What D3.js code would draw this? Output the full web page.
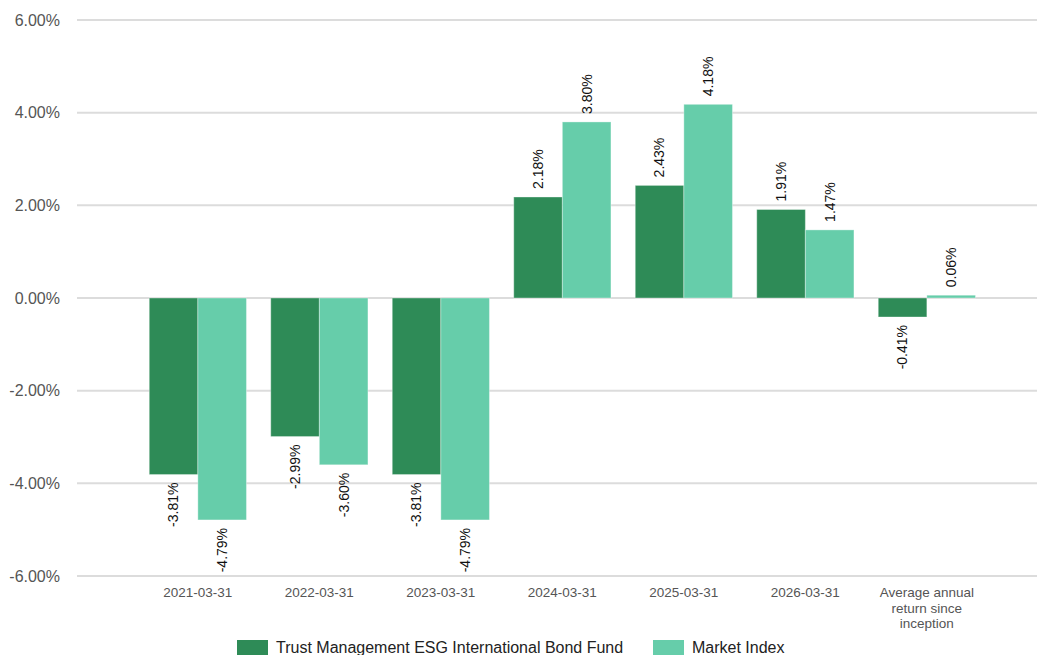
<!DOCTYPE html>
<html>
<head>
<meta charset="utf-8">
<script src="https://cdn.jsdelivr.net/npm/d3@7"></script>
<style>
  html, body { margin: 0; padding: 0; background: #fff; }
  svg { display: block; font-family: "Liberation Sans", Arial, sans-serif; }
</style>
</head>
<body>
<svg id="chart" width="1037" height="655"></svg>
<script>
"use strict";
// data
const categories = ["2021-03-31", "2022-03-31", "2023-03-31", "2024-03-31", "2025-03-31", "2026-03-31",
    "Average annual return since inception"];
const seriesNames = ["Trust Management ESG International Bond Fund", "Market Index"];
const fundValues = [-3.81, -2.99, -3.81, 2.18, 2.43, 1.91, -0.41];
const indexValues = [-4.79, -3.60, -4.79, 3.80, 4.18, 1.47, 0.06];
const yTicks = [-6, -4, -2, 0, 2, 4, 6];
const colors = ["#2e8b57", "#66cdaa"];

const svg = d3.select("#chart");
const gridLeft = 77, gridRight = 1037;

const y = d3.scaleLinear().domain([-6, 6]).range([576, 20]);
const x0 = d3.scaleBand().domain(categories).range([88.5, 1036.2])
    .paddingInner(0.2).paddingOuter(0.5);
const x1 = d3.scaleBand().domain([0, 1]).range([0, x0.bandwidth()]);

// gridlines
svg.append("g")
    .selectAll("line")
    .data(yTicks)
    .join("line")
    .attr("x1", gridLeft).attr("x2", gridRight)
    .attr("y1", d => y(d)).attr("y2", d => y(d))
    .attr("stroke", "#dcdcdc")
    .attr("stroke-width", 2);

// y axis labels
svg.append("g")
    .selectAll("text")
    .data(yTicks)
    .join("text")
    .attr("x", 60)
    .attr("y", d => y(d))
    .attr("dy", "0.35em")
    .attr("text-anchor", "end")
    .attr("font-size", 16)
    .attr("fill", "#555")
    .text(d => d.toFixed(2) + "%");

const rows = categories.map((c, i) => ({ cat: c, vals: [fundValues[i], indexValues[i]] }));

const groups = svg.append("g")
    .selectAll("g")
    .data(rows)
    .join("g")
    .attr("transform", d => `translate(${x0(d.cat)},0)`);

groups.selectAll("rect")
    .data(d => d.vals.map((v, k) => ({ v, k })))
    .join("rect")
    .attr("x", d => x1(d.k))
    .attr("width", x1.bandwidth())
    .attr("y", d => y(Math.max(0, d.v)))
    .attr("height", d => Math.abs(y(d.v) - y(0)))
    .attr("fill", d => colors[d.k])
    .attr("stroke", "#fff")
    .attr("stroke-opacity", 0.35)
    .attr("stroke-width", 1);

// value labels, rotated
groups.selectAll("text")
    .data(d => d.vals.map((v, k) => ({ v, k })))
    .join("text")
    .attr("transform", d => {
        const cx = x1(d.k) + x1.bandwidth() / 2;
        const cy = d.v >= 0 ? y(d.v) - 8 : y(d.v) + 8;
        return `translate(${cx},${cy}) rotate(-90)`;
    })
    .attr("text-anchor", d => d.v >= 0 ? "start" : "end")
    .attr("dy", "0.35em")
    .attr("font-size", 14)
    .attr("fill", "#111")
    .text(d => d.v.toFixed(2) + "%");

// x labels, wrapped
const wrapLines = {
    "Average annual return since inception": ["Average annual", "return since", "inception"]
};
const xLabels = svg.append("g")
    .selectAll("text")
    .data(categories)
    .join("text")
    .attr("x", d => x0(d) + x0.bandwidth() / 2)
    .attr("y", 597)
    .attr("text-anchor", "middle")
    .attr("font-size", 13.5)
    .attr("fill", "#555");
xLabels.each(function (d) {
    const lines = wrapLines[d] || [d];
    const t = d3.select(this);
    lines.forEach((ln, i) => {
        t.append("tspan")
            .attr("x", x0(d) + x0.bandwidth() / 2)
            .attr("dy", i == 0 ? 0 : 15.5)
            .text(ln);
    });
});

// legend
const legend = svg.append("g");
const legendX = [237, 653];
seriesNames.forEach((name, i) => {
    legend.append("rect")
        .attr("x", legendX[i]).attr("y", 640)
        .attr("width", 31).attr("height", 16)
        .attr("fill", colors[i]);
    legend.append("text")
        .attr("x", legendX[i] + 39).attr("y", 653)
        .attr("font-size", 16)
        .attr("fill", "#222")
        .text(name);
});
</script>
</body>
</html>
